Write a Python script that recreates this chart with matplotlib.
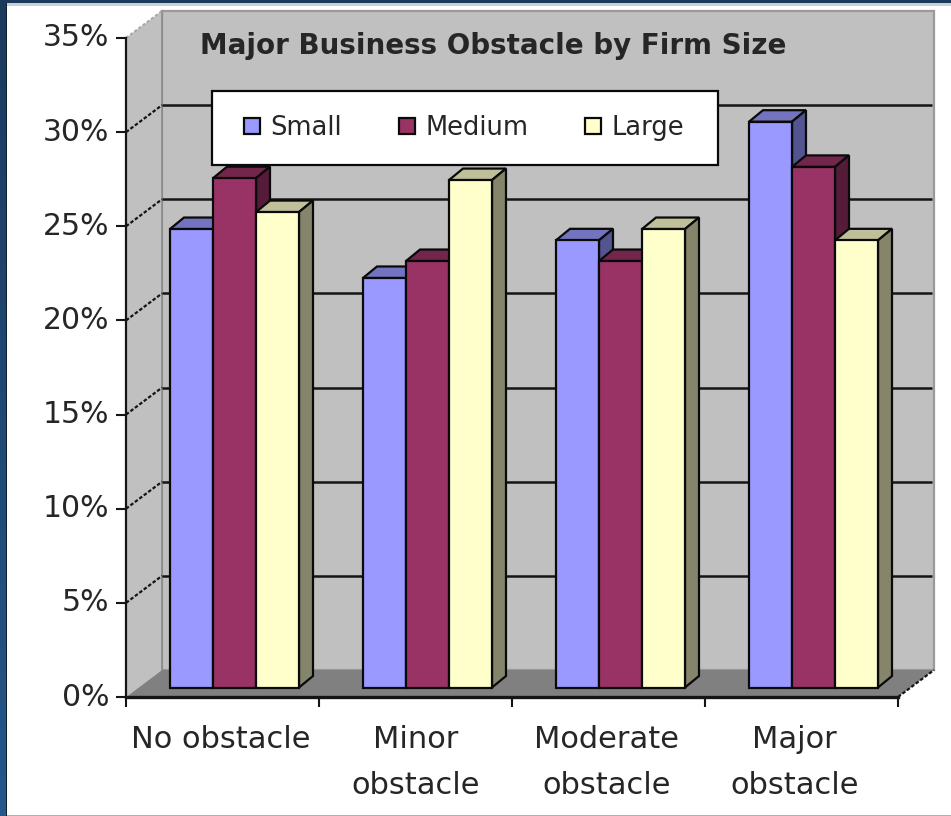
import numpy as np
import matplotlib
matplotlib.use("Agg")
import matplotlib.pyplot as plt
from matplotlib.patches import Polygon, Rectangle
from matplotlib.transforms import ScaledTranslation

categories = ["No obstacle", "Minor\nobstacle", "Moderate\nobstacle", "Major\nobstacle"]
small = [24.35, 21.75, 23.75, 30.05]
medium = [27.05, 22.65, 22.65, 27.65]
large = [25.25, 26.95, 24.35, 23.75]
series_names = ["Small", "Medium", "Large"]
title = "Major Business Obstacle by Firm Size"
y_ticks = [0, 5, 10, 15, 20, 25, 30, 35]

W, H = 951, 816
L, R, T, B = 126, 898, 38, 697
fig = plt.figure(figsize=(W / 100, H / 100), dpi=100, facecolor="white")
plt.rcParams["font.family"] = "DejaVu Sans"

# frame
bg = fig.add_axes([0, 0, 1, 1], zorder=0)
bg.axis("off")
bg.imshow(np.linspace(0, 1, 64)[:, None], extent=(0, 6, H, 0), aspect="auto",
          cmap=matplotlib.colors.LinearSegmentedColormap.from_list("f", ["#1b3a5e", "#25578a"]))
bg.set_xlim(0, W); bg.set_ylim(H, 0)
bg.add_patch(Rectangle((0, 0), W, 3, color="#1b3a5e", lw=0))
bg.add_patch(Rectangle((7, 3), W, 3, color="#c8d0d8", lw=0))
bg.add_patch(Rectangle((6, 3), 1.2, H, color="#10202f", lw=0))
bg.add_patch(Rectangle((7, 814.5), W, 1.5, color="#b0b0b0", lw=0))

ax = fig.add_axes([L / W, 1 - B / H, (R - L) / W, (B - T) / H], zorder=1)
ax.patch.set_alpha(0)
ax.set_xlim(0, 4)
ax.set_ylim(0, 35)
px_x = 4 / (R - L)
px_y = 35 / (B - T)

# 3-D box offsets
dx, dy = 36 * px_x, 27 * px_y
WALL, FLOOR = "#c0c0c0", "#808080"
ax.add_patch(Polygon([(dx, dy), (4 + dx, dy), (4 + dx, 35 + dy), (dx, 35 + dy)], fc=WALL, ec="#9a9a9a", lw=1.6, clip_on=False, zorder=0.5))
ax.add_patch(Polygon([(0, 0), (dx, dy), (dx, 35 + dy), (0, 35)], fc=WALL, ec="none", clip_on=False, zorder=0.6))
ax.plot([dx, dx], [dy, 35 + dy], color="#8a8a8a", lw=1.2, clip_on=False, zorder=0.7)
ax.plot([0, dx], [35, 35 + dy], color="#a8a8a8", lw=1.5, ls=(0, (1.5, 1)), clip_on=False, zorder=0.7)
ax.add_patch(Polygon([(0, 0), (4, 0), (4 + dx, dy), (dx, dy)], fc=FLOOR, ec="none", clip_on=False, zorder=0.8))
for v in y_ticks[1:-1]:
    ax.plot([dx, 4 + dx - 2 * px_x], [v + dy, v + dy], color="#151515", lw=1.8, clip_on=False, zorder=1, solid_capstyle="butt")
    ax.plot([0, dx], [v, v + dy], color="#151515", lw=1.6, ls=(0, (1.6, 0.9)), clip_on=False, zorder=1)
ax.plot([4, 4 + dx], [0, dy], color="#151515", lw=1.6, ls=(0, (1.6, 0.9)), clip_on=False, zorder=1)

# bars
group_x = np.arange(4)
bar_w = 43 * px_x
start = 44 * px_x
base = 9.5 * px_y
ddx, ddy = 14 * px_x, 11.5 * px_y
faces = ["#9999ff", "#993366", "#ffffcc"]
tops = ["#7373bf", "#73264c", "#bfbf99"]
sides = ["#545490", "#541c38", "#85856b"]
containers = []
for i, (vals, f, t, s) in enumerate(zip([small, medium, large], faces, tops, sides)):
    z = 3 + i
    xs = group_x + start + i * bar_w
    bars = ax.bar(xs, vals, width=bar_w, bottom=base, align="edge", color=f, edgecolor="#0a0a0a",
                  linewidth=1.6, zorder=z + 0.5, label=series_names[i], clip_on=False)
    containers.append(bars)
    for x, v in zip(xs, vals):
        tp = v + base
        ax.add_patch(Polygon([(x, tp), (x + bar_w, tp), (x + bar_w + ddx, tp + ddy), (x + ddx, tp + ddy)],
                             fc=t, ec="#0a0a0a", lw=1.6, zorder=z, clip_on=False, joinstyle="miter"))
        ax.add_patch(Polygon([(x + bar_w, base), (x + bar_w + ddx, base + ddy), (x + bar_w + ddx, tp + ddy), (x + bar_w, tp)],
                             fc=s, ec="#0a0a0a", lw=1.6, zorder=z, clip_on=False, joinstyle="miter"))

# axes
for sp in ("top", "right"):
    ax.spines[sp].set_visible(False)
ax.spines["left"].set_linewidth(1.6)
ax.spines["bottom"].set_linewidth(2.4)
for sp in ("left", "bottom"):
    ax.spines[sp].set_color("#151515")
    ax.spines[sp].set_zorder(8)
ax.set_yticks(y_ticks)
ax.set_yticklabels([f"{v}%" for v in y_ticks], fontsize=21.5, color="#262626")
ax.tick_params(axis="y", length=7.2, width=1.5, pad=5, color="#151515")
for lab in ax.get_yticklabels():
    lab.set_transform(lab.get_transform() + ScaledTranslation(0, 0.03, fig.dpi_scale_trans))
ax.set_xticks(np.arange(5))
ax.set_xticklabels([])
ax.tick_params(axis="x", which="major", length=7.2, width=1.5, color="#151515")
ax.set_xticks([0.49, 1.5, 2.49, 3.465], minor=True)
ax.set_xticklabels(categories, minor=True, fontsize=22, color="#262626", linespacing=1.75)
ax.tick_params(axis="x", which="minor", length=0, pad=20)

ax.set_title(title, loc="left", x=(200 - L) / (R - L), y=(B - 53.5) / (B - T), fontsize=20,
             fontweight="bold", color="#262626", pad=0)

# legend: box plus a frameless legend centred in it
lx0, ly0, lx1, ly1 = 212, 91, 718, 165
ax.add_patch(Rectangle(((lx0 - L) * px_x, (B - ly1) * px_y), (lx1 - lx0) * px_x, (ly1 - ly0) * px_y,
                       fc="white", ec="#0a0a0a", lw=1.6, zorder=19, clip_on=False))
leg = ax.legend(handles=containers, labels=series_names, ncols=3, loc="center",
                bbox_to_anchor=(((lx0 + lx1) / 2 - 1 - L) / (R - L), (B - (ly0 + ly1) / 2) / (B - T)),
                frameon=False, fontsize=18.5, handlelength=0.62, handleheight=0.62, handletextpad=0.42,
                columnspacing=2.2, borderpad=0, borderaxespad=0)
leg.set_zorder(20)
for txt in leg.get_texts():
    txt.set_color("#262626")

fig.savefig("out.png", dpi=100)
